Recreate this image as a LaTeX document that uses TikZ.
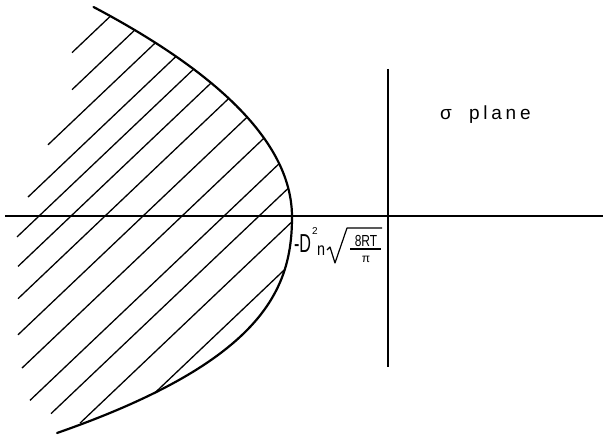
\documentclass[tikz,border=0pt]{standalone}
\usepackage{fontspec}
\setmainfont{Liberation Sans}
\tikzset{
  boundary/.style={line width=2.2pt, line join=round, line cap=round},
  hatchline/.style={line width=1.3pt},
  axisline/.style={line width=1.5pt},
  lbl/.style={inner sep=0pt, outer sep=0pt}
}
\begin{document}
\begin{tikzpicture}[x=1pt,y=-1pt]
\useasboundingbox (0,0) rectangle (603,436);
% axes
\coordinate (xl) at (5,216);
\coordinate (xr) at (603,216);
\coordinate (yt) at (388,69);
\coordinate (yb) at (388,367);
\draw[axisline] (xl) -- (xr);
\draw[axisline] (yt) -- (yb);
% hatching clipped by the boundary curve
\begin{scope}
\clip plot[domain=-210:0, samples=50, smooth] ({292-45*(\x/100)^2}, {217+\x})
   -- plot[domain=0:216, samples=50, smooth] ({292-18.46*(\x/100)^2-14.77*(\x/100)^3}, {217+\x})
   -- (-20,433) -- (-20,7) -- cycle;
\foreach \c/\xl in {-101/72, -62/72, -28/48, 7/28, 38/17, 70/18, 104/18, 142/18, 181/22, 223/30, 258/51, 297/80, 340/150}
  \draw[hatchline] (\xl, {217-0.95*(\xl-\c)}) -- (420, {217-0.95*(420-\c)});
\end{scope}
% boundary curve
\draw[boundary] plot[domain=-210:0, samples=50, smooth] ({292-45*(\x/100)^2}, {217+\x})
   -- plot[domain=0:216, samples=50, smooth] ({292-18.46*(\x/100)^2-14.77*(\x/100)^3}, {217+\x});
% label sigma plane
\node[lbl, anchor=base west, font=\fontsize{19}{20}\selectfont] (sig) at (440,120) {σ};
\node[lbl, anchor=base west, font=\fontsize{19}{20}\selectfont\addfontfeature{LetterSpace=20}] (pl) at (469,120) {plane};
% vertex label
\node[lbl, anchor=base west, xscale=0.62, font=\fontsize{26}{28}\selectfont] (dd) at (294,252) {-D};
\node[lbl, anchor=base west, font=\fontsize{10}{11}\selectfont] (two) at (312,234) {2};
\node[lbl, anchor=base west, xscale=0.8, font=\fontsize{18}{20}\selectfont] (nn) at (317,255) {n};
\coordinate (s1) at (327,250);
\coordinate (s2) at (330,247);
\coordinate (s3) at (335,263);
\coordinate (s4) at (347,228);
\coordinate (s5) at (382,228);
\draw[line width=1.2pt, line join=round] (s1) -- (s2) -- (s3) -- (s4) -- (s5);
\node[lbl, anchor=base, xscale=0.75, font=\fontsize{16}{18}\selectfont] (num) at (366,246) {8RT};
\coordinate (f1) at (350,249);
\coordinate (f2) at (381,249);
\draw[line width=1.2pt] (f1) -- (f2);
\node[lbl, anchor=base, font=\fontsize{12}{14}\selectfont] (den) at (366,262) {π};
\end{tikzpicture}
\end{document}
